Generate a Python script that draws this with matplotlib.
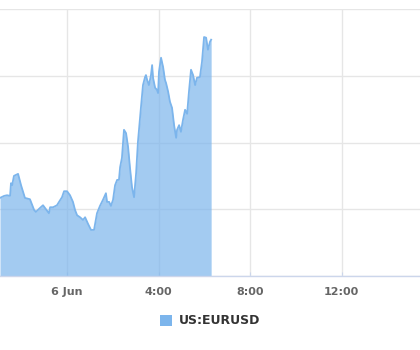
import numpy as np
import matplotlib
matplotlib.use("Agg")
import matplotlib.pyplot as plt
from matplotlib.patches import Patch

# ---- data (hours from 6 Jun 00:00, price) ----
hours = [-2.93, -2.75, -2.62, -2.49, -2.45, -2.40, -2.32, -2.14, -2.01, -1.84,
         -1.62, -1.44, -1.36, -1.18, -1.05, -0.92, -0.79, -0.74, -0.61, -0.44,
         -0.35, -0.22, -0.13, 0.00, 0.13, 0.26, 0.35, 0.44, 0.57, 0.70,
         0.79, 0.92, 1.05, 1.18, 1.31, 1.44, 1.57, 1.70, 1.75, 1.84,
         1.92, 2.01, 2.10, 2.19, 2.27, 2.32, 2.40, 2.49, 2.58, 2.67,
         2.75, 2.84, 2.93, 3.02, 3.10, 3.23, 3.32, 3.41, 3.45, 3.50,
         3.58, 3.67, 3.72, 3.76, 3.85, 3.93, 3.98, 4.02, 4.11, 4.20,
         4.28, 4.33, 4.42, 4.50, 4.59, 4.68, 4.77, 4.81, 4.90, 4.98,
         5.07, 5.16, 5.25, 5.33, 5.42, 5.51, 5.60, 5.68, 5.81, 5.90,
         5.99, 6.08, 6.16, 6.25, 6.30]
price = [1.13117, 1.13120, 1.13121, 1.13120, 1.13139, 1.13136, 1.13150, 1.13153, 1.13136, 1.13117,
         1.13115, 1.13099, 1.13096, 1.13102, 1.13106, 1.13100, 1.13094, 1.13103, 1.13103, 1.13106,
         1.13111, 1.13118, 1.13127, 1.13127, 1.13121, 1.13111, 1.13099, 1.13091, 1.13088, 1.13084,
         1.13088, 1.13078, 1.13069, 1.13069, 1.13094, 1.13105, 1.13114, 1.13124, 1.13111, 1.13111,
         1.13105, 1.13114, 1.13136, 1.13144, 1.13144, 1.13163, 1.13177, 1.13219, 1.13214, 1.13193,
         1.13163, 1.13133, 1.13118, 1.13154, 1.13201, 1.13252, 1.13286, 1.13298, 1.13301, 1.13294,
         1.13286, 1.13301, 1.13316, 1.13297, 1.13282, 1.13279, 1.13274, 1.13306, 1.13327, 1.13313,
         1.13294, 1.13289, 1.13276, 1.13261, 1.13252, 1.13226, 1.13207, 1.13219, 1.13226, 1.13216,
         1.13234, 1.13249, 1.13243, 1.13276, 1.13309, 1.13301, 1.13286, 1.13297, 1.13298, 1.13321,
         1.13358, 1.13357, 1.13339, 1.13351, 1.13354]

tick_pos = [0, 4, 8, 12]
tick_labels = ["6 Jun", "4:00", "8:00", "12:00"]
y_grid = [1.1300, 1.1310, 1.1320, 1.1330, 1.1340]
series_name = "US:EURUSD"

line_color = "#7cb5ec"

fig = plt.figure(figsize=(4.2, 3.5), dpi=100)
ax = fig.add_axes([0.0, 1 - 276 / 350, 1.0, (276 - 9) / 350])

ax.fill_between(hours, y_grid[0], price, color=line_color, alpha=0.7, linewidth=0)
ax.plot(hours, price, color=line_color, linewidth=1.3)

ax.set_xlim(-2.93, 15.43)
ax.set_ylim(y_grid[0], y_grid[-1])
ax.set_yticks(y_grid)
ax.set_xticks(tick_pos)
ax.set_xticklabels(tick_labels)

ax.grid(True, color="#e6e6e6", linewidth=1)
ax.set_axisbelow(True)
for s in ["top", "left", "right"]:
    ax.spines[s].set_visible(False)
ax.spines["bottom"].set_color("#ccd6eb")
ax.spines["bottom"].set_linewidth(1)
ax.tick_params(axis="y", left=False, labelleft=False)
ax.tick_params(axis="x", direction="in", length=3, color="#ccd6eb",
               labelsize=8, labelcolor="#666666", pad=8)
for lbl in ax.get_xticklabels():
    lbl.set_fontweight("semibold")

leg = fig.legend(handles=[Patch(facecolor=line_color, edgecolor="none", label=series_name)],
                 loc="center", bbox_to_anchor=(0.5, 1 - 321 / 350), frameon=False,
                 prop={"size": 9, "weight": "bold"}, handlelength=1.0, handleheight=1.0,
                 handletextpad=0.5)
for t in leg.get_texts():
    t.set_color("#333333")

fig.savefig("out.png", dpi=100)
